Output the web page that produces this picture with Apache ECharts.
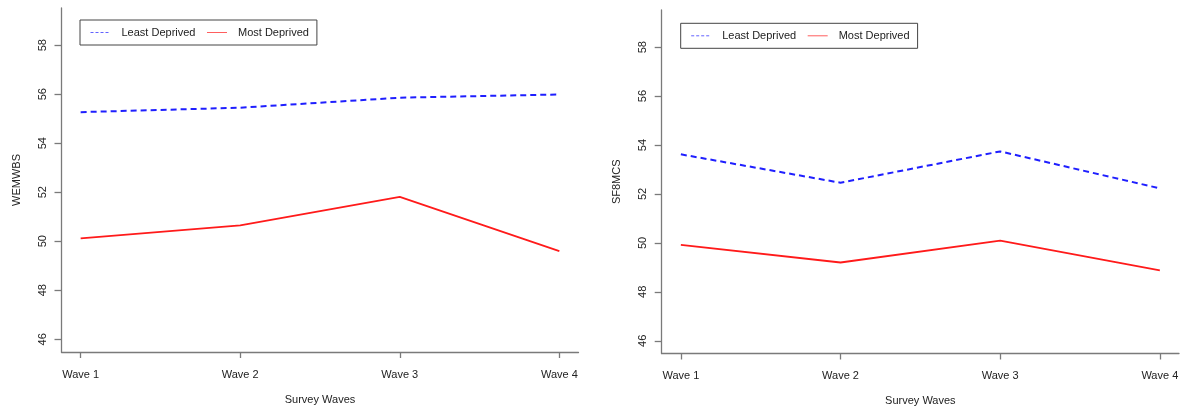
<!DOCTYPE html>
<html>
<head>
<meta charset="utf-8">
<script src="https://cdn.jsdelivr.net/npm/echarts@6/dist/echarts.min.js"></script>
<style>
html,body{margin:0;padding:0;background:#fff;}
#chart{width:1184px;height:412px;}
</style>
</head>
<body>
<div id="chart"></div>
<script>
// ---- data ----
var waves = ['Wave 1', 'Wave 2', 'Wave 3', 'Wave 4'];
var yTicks = [46, 48, 50, 52, 54, 56, 58];
var seriesNames = ['Least Deprived', 'Most Deprived'];
var wemwbsLeast = [55.27, 55.45, 55.86, 55.99];
var wemwbsMost = [50.12, 50.65, 51.81, 49.60];
var sf8mcsLeast = [53.62, 52.46, 53.74, 52.23];
var sf8mcsMost = [49.92, 49.20, 50.09, 48.88];
var yTitles = ['WEMWBS', 'SF8MCS'];
var xTitle = 'Survey Waves';

function pts(arr) { return arr.map(function (v, i) { return [i + 1, v]; }); }
var waveIdx = waves.map(function (w, i) { return i + 1; });

var font = 'Liberation Sans, Arial, Helvetica, sans-serif';
var axisCol = '#7a7a7a';
var txtCol = '#222';

function xAxis(gi) {
  return {
    type: 'value', gridIndex: gi, min: 0.88, max: 4.12,
    name: xTitle, nameLocation: 'middle', nameGap: 42,
    nameTextStyle: { fontFamily: font, fontSize: 11, color: txtCol },
    axisLine: { show: true, lineStyle: { color: axisCol, width: 1.3 } },
    axisTick: { show: true, length: 6, customValues: waveIdx, lineStyle: { color: axisCol, width: 1.3 } },
    axisLabel: { customValues: waveIdx, margin: 17, fontFamily: font, fontSize: 11, color: txtCol,
      formatter: function (v) { return waves[Math.round(v) - 1]; } },
    splitLine: { show: false }
  };
}
function yAxis(gi) {
  return {
    type: 'value', gridIndex: gi, min: 45.48, max: 59.52,
    name: yTitles[gi], nameLocation: 'middle', nameGap: 39, nameRotate: 90,
    nameTextStyle: { fontFamily: font, fontSize: 11, color: txtCol },
    axisLine: { show: true, lineStyle: { color: axisCol, width: 1.3 } },
    axisTick: { show: true, length: 7, customValues: yTicks, lineStyle: { color: axisCol, width: 1.3 } },
    axisLabel: { customValues: yTicks, rotate: 90, margin: 13, fontFamily: font, fontSize: 11, color: txtCol },
    splitLine: { show: false }
  };
}
function legend(left, top) {
  return {
    left: left, top: top, orient: 'horizontal',
    data: [
      { name: seriesNames[0], lineStyle: { type: [3, 2] } },
      { name: seriesNames[1] }
    ],
    itemWidth: 20, itemHeight: 10, itemGap: 11,
    padding: [7, 8, 7, 10],
    borderColor: '#444', borderWidth: 1, borderRadius: 0,
    textStyle: { fontFamily: font, fontSize: 11, color: txtCol, padding: [0, 0, 0, 6] },
    itemStyle: { opacity: 0 },
    lineStyle: { width: 1, opacity: 0.7 }
  };
}
function line(name, data, gi, dashed) {
  return {
    name: name, type: 'line', xAxisIndex: gi, yAxisIndex: gi,
    data: pts(data), symbol: 'none', silent: true,
    lineStyle: dashed ? { color: '#1f1fff', width: 2, type: [6, 4] } : { color: '#ff1a1a', width: 1.8 },
    itemStyle: { color: dashed ? '#1f1fff' : '#ff1a1a' }
  };
}

var chart = echarts.init(document.getElementById('chart'), null, { renderer: 'canvas' });
chart.setOption({
  animation: false,
  backgroundColor: '#fff',
  grid: [
    { left: 61.5, right: 605.5, top: 8, bottom: 60 },
    { left: 661.7, right: 5, top: 10, bottom: 58.5 }
  ],
  xAxis: [xAxis(0), xAxis(1)],
  yAxis: [yAxis(0), yAxis(1)],
  legend: [legend(80, 20), legend(680.7, 23.3)],
  series: [
    line(seriesNames[0], wemwbsLeast, 0, true),
    line(seriesNames[1], wemwbsMost, 0, false),
    line(seriesNames[0], sf8mcsLeast, 1, true),
    line(seriesNames[1], sf8mcsMost, 1, false)
  ]
});
</script>
</body>
</html>
